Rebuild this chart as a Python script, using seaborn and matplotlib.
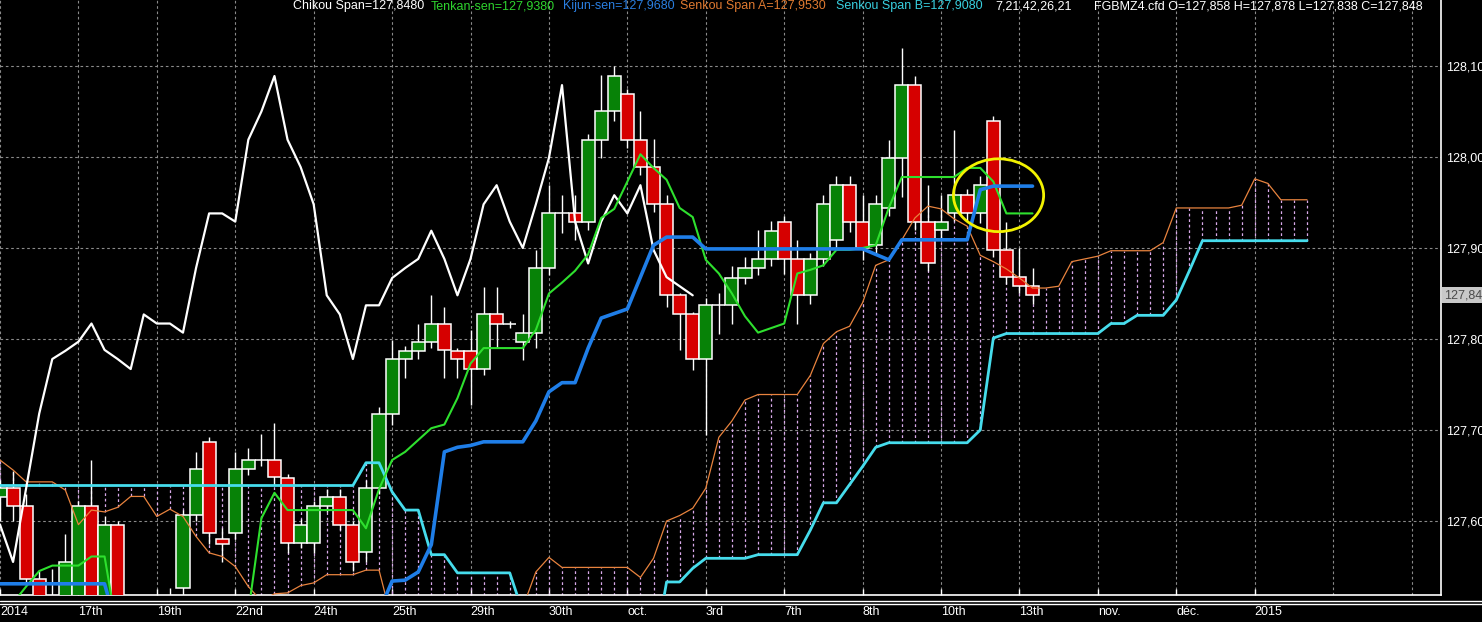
import numpy as np
import pandas as pd
import seaborn as sns
import matplotlib.pyplot as plt
from matplotlib.patches import Ellipse
from matplotlib.lines import Line2D
from matplotlib.transforms import blended_transform_factory

# ---- values, one entry per bar ----
opens = [
    127.626, 127.636, 127.616, 127.536, 127.510, 127.500, 127.500, 127.616, 127.500, 127.596,
    127.490, 127.480, 127.470, 127.470, 127.526, 127.607, 127.687, 127.580, 127.587, 127.657,
    127.667, 127.667, 127.647, 127.576, 127.576, 127.616, 127.626, 127.596, 127.566, 127.636,
    127.718, 127.778, 127.787, 127.797, 127.817, 127.787, 127.787, 127.767, 127.827, 127.817,
    127.797, 127.807, 127.878, 127.938, 127.938, 127.929, 128.019, 128.050, 128.069, 128.019,
    127.989, 127.948, 127.848, 127.827, 127.778, 127.837, 127.837, 127.867, 127.878, 127.888,
    127.929, 127.888, 127.848, 127.888, 127.909, 127.969, 127.929, 127.903, 127.944, 127.999,
    128.079, 127.929, 127.920, 127.938, 127.958, 127.938, 128.040, 127.898, 127.868, 127.858]
highs = [
    127.645, 127.655, 127.630, 127.545, 127.547, 127.586, 127.622, 127.667, 127.605, 127.600,
    127.500, 127.495, 127.490, 127.526, 127.612, 127.676, 127.692, 127.592, 127.676, 127.680,
    127.696, 127.708, 127.652, 127.602, 127.622, 127.635, 127.635, 127.600, 127.645, 127.725,
    127.799, 127.792, 127.817, 127.848, 127.835, 127.790, 127.810, 127.857, 127.857, 127.820,
    127.828, 127.898, 127.969, 127.958, 127.958, 128.025, 128.090, 128.100, 128.075, 128.050,
    128.020, 127.958, 127.850, 127.830, 127.845, 127.850, 127.880, 127.890, 127.920, 127.930,
    127.935, 127.909, 127.895, 127.958, 127.979, 127.979, 127.958, 127.958, 128.019, 128.120,
    128.089, 127.969, 127.958, 128.030, 127.965, 127.979, 128.045, 127.929, 127.900, 127.878]
lows = [
    127.600, 127.600, 127.530, 127.480, 127.470, 127.480, 127.490, 127.480, 127.490, 127.470,
    127.460, 127.455, 127.450, 127.450, 127.505, 127.600, 127.575, 127.555, 127.580, 127.650,
    127.660, 127.640, 127.565, 127.570, 127.565, 127.610, 127.590, 127.545, 127.555, 127.630,
    127.705, 127.757, 127.778, 127.790, 127.757, 127.757, 127.727, 127.760, 127.790, 127.812,
    127.777, 127.790, 127.870, 127.917, 127.909, 127.920, 127.999, 128.040, 128.010, 127.980,
    127.940, 127.835, 127.788, 127.766, 127.695, 127.806, 127.817, 127.860, 127.870, 127.880,
    127.871, 127.817, 127.839, 127.880, 127.900, 127.918, 127.887, 127.895, 127.935, 127.956,
    127.920, 127.875, 127.910, 127.930, 127.930, 127.927, 127.890, 127.860, 127.850, 127.838]
closes = [
    127.636, 127.616, 127.536, 127.500, 127.490, 127.555, 127.616, 127.500, 127.596, 127.490,
    127.480, 127.470, 127.470, 127.500, 127.607, 127.657, 127.587, 127.575, 127.657, 127.667,
    127.667, 127.648, 127.576, 127.596, 127.616, 127.626, 127.596, 127.555, 127.636, 127.718,
    127.778, 127.787, 127.797, 127.817, 127.788, 127.778, 127.767, 127.827, 127.817, 127.817,
    127.807, 127.878, 127.938, 127.938, 127.929, 128.019, 128.050, 128.089, 128.019, 127.989,
    127.948, 127.848, 127.827, 127.778, 127.837, 127.837, 127.867, 127.878, 127.888, 127.919,
    127.888, 127.848, 127.888, 127.948, 127.969, 127.929, 127.900, 127.948, 127.999, 128.079,
    127.929, 127.883, 127.929, 127.958, 127.938, 127.969, 127.898, 127.868, 127.858, 127.848]

tenkan = [
    127.480, 127.510, 127.528, 127.545, 127.551, 127.551, 127.551, 127.561, 127.561, 127.477,
    127.460, 127.460, 127.460, 127.460, 127.460, 127.460, 127.460, 127.460, 127.460, 127.500,
    127.603, 127.631, 127.612, 127.612, 127.612, 127.612, 127.612, 127.612, 127.592, 127.635,
    127.667, 127.676, 127.689, 127.702, 127.706, 127.735, 127.773, 127.790, 127.790, 127.790,
    127.790, 127.810, 127.850, 127.862, 127.875, 127.893, 127.933, 127.943, 127.973, 128.003,
    127.988, 127.975, 127.944, 127.934, 127.887, 127.872, 127.850, 127.825, 127.807, 127.812,
    127.817, 127.872, 127.876, 127.881, 127.898, 127.898, 127.900, 127.903, 127.944, 127.978,
    127.978, 127.978, 127.978, 127.978, 127.988, 127.988, 127.973, 127.938, 127.938, 127.938]
kijun = [
    127.531, 127.531, 127.531, 127.531, 127.531, 127.531, 127.531, 127.531, 127.531, 127.480,
    127.480, 127.480, 127.480, 127.480, 127.480, 127.480, 127.480, 127.480, 127.480, 127.480,
    127.480, 127.480, 127.480, 127.480, 127.480, 127.480, 127.480, 127.480, 127.480, 127.500,
    127.534, 127.535, 127.544, 127.574, 127.676, 127.681, 127.683, 127.687, 127.687, 127.687,
    127.687, 127.710, 127.742, 127.752, 127.752, 127.790, 127.823, 127.828, 127.833, 127.868,
    127.903, 127.912, 127.912, 127.912, 127.899, 127.899, 127.899, 127.899, 127.899, 127.899,
    127.899, 127.899, 127.899, 127.899, 127.899, 127.899, 127.899, 127.893, 127.887, 127.909,
    127.909, 127.909, 127.909, 127.909, 127.909, 127.964, 127.968, 127.968, 127.968, 127.968]
senkou_a = [
    127.667, 127.656, 127.643, 127.643, 127.643, 127.634, 127.596, 127.612, 127.610, 127.615,
    127.627, 127.627, 127.605, 127.613, 127.605, 127.583, 127.565, 127.561, 127.550, 127.528,
    127.512, 127.520, 127.521, 127.529, 127.532, 127.541, 127.541, 127.541, 127.546, 127.546,
    127.490, 127.480, 127.480, 127.480, 127.480, 127.480, 127.480, 127.480, 127.480, 127.480,
    127.505, 127.544, 127.560, 127.549, 127.549, 127.549, 127.549, 127.549, 127.549, 127.538,
    127.559, 127.600, 127.606, 127.614, 127.636, 127.692, 127.710, 127.733, 127.739, 127.739,
    127.739, 127.739, 127.760, 127.795, 127.808, 127.814, 127.840, 127.881, 127.887, 127.909,
    127.933, 127.946, 127.943, 127.932, 127.924, 127.892, 127.885, 127.877, 127.867, 127.856,
    127.856, 127.858, 127.885, 127.888, 127.891, 127.897, 127.897, 127.897, 127.897, 127.906,
    127.944, 127.944, 127.944, 127.944, 127.944, 127.947, 127.976, 127.971, 127.953, 127.953,
    127.953]
senkou_b = [
    127.639, 127.639, 127.639, 127.639, 127.639, 127.639, 127.639, 127.639, 127.639, 127.639,
    127.639, 127.639, 127.639, 127.639, 127.639, 127.639, 127.639, 127.639, 127.639, 127.639,
    127.639, 127.639, 127.639, 127.639, 127.639, 127.639, 127.639, 127.639, 127.664, 127.664,
    127.632, 127.612, 127.612, 127.563, 127.563, 127.543, 127.543, 127.543, 127.543, 127.543,
    127.500, 127.480, 127.480, 127.480, 127.480, 127.480, 127.480, 127.480, 127.480, 127.480,
    127.450, 127.533, 127.533, 127.548, 127.559, 127.559, 127.559, 127.559, 127.563, 127.563,
    127.563, 127.563, 127.590, 127.620, 127.620, 127.640, 127.660, 127.681, 127.686, 127.686,
    127.686, 127.686, 127.686, 127.686, 127.686, 127.700, 127.801, 127.806, 127.806, 127.806,
    127.806, 127.806, 127.806, 127.806, 127.806, 127.817, 127.817, 127.826, 127.826, 127.826,
    127.843, 127.875, 127.908, 127.908, 127.908, 127.908, 127.908, 127.908, 127.908, 127.908,
    127.908]

chikou_shift = 26
date_labels = ['2014', '17th', '19th', '22nd', '24th', '25th', '29th', '30th', 'oct.',
               '3rd', '7th', '8th', '10th', '13th', 'nov.', 'déc.', '2015']
price_levels = [127.60, 127.70, 127.80, 127.90, 128.00, 128.10]
last_price_label = '127,84'
header_texts = ['Chikou Span=127,8480', 'Tenkan-sen=127,9380', 'Kijun-sen=127,9680',
                'Senkou Span A=127,9530', 'Senkou Span B=127,9080', '7,21,42,26,21',
                'FGBMZ4.cfd O=127,858 H=127,878 L=127,838 C=127,848']

# ---- styling ----
C_TENKAN = '#2ee02e'
C_KIJUN = '#1f7ee8'
C_SPAN_A = '#e8833e'
C_SPAN_B = '#46dcec'
C_CLOUD = '#d9a9ea'
C_UP = '#078207'
C_DOWN = '#d60000'
header_colors = ['white', '#2ed42e', '#2a7ee0', '#e07a30', '#38d0e0', 'white', 'white']
header_x = [293, 431, 563, 680, 836, 995, 1094]

W, H = 1482, 622
sns.set_theme(style='dark', rc={'axes.facecolor': 'black', 'figure.facecolor': 'black'})
plt.rcParams['font.family'] = ['Liberation Sans', 'DejaVu Sans']

fig = plt.figure(figsize=(W / 100, H / 100), dpi=100)
ax = fig.add_axes([0, 27 / H, 1441 / W, 1 - 27 / H])
ax.set_facecolor('black')

bars = np.arange(len(closes))
ahead = np.arange(len(senkou_a))
o = np.array(opens)
c = np.array(closes)

# grid
for gx in range(0, 112, 6):
    ax.axvline(gx, color='#8a8a8a', lw=0.8, ls=(0, (2.4, 2.4)), zorder=0.5)
for gy in price_levels:
    ax.axhline(gy, color='#8a8a8a', lw=0.8, ls=(0, (2.4, 2.4)), zorder=0.5)

# cloud hatching
sa = np.array(senkou_a)
sb = np.array(senkou_b)
ax.vlines(ahead, np.minimum(sa, sb), np.maximum(sa, sb), colors=C_CLOUD,
          linestyles=(0, (2.2, 2.2)), lw=0.9, zorder=1)

# candles
ax.vlines(bars, lows, highs, colors='white', lw=1.0, zorder=2)
body_col = [C_UP if cc >= oo else C_DOWN for oo, cc in zip(o, c)]
ax.bar(bars, np.abs(c - o), bottom=np.minimum(o, c), width=1.0, color=body_col,
       edgecolor='white', linewidth=1.1, zorder=3)

# ichimoku lines
sns.lineplot(x=ahead, y=senkou_a, ax=ax, color=C_SPAN_A, linewidth=0.9, zorder=4)
sns.lineplot(x=ahead, y=senkou_b, ax=ax, color=C_SPAN_B, linewidth=2.0, zorder=4)
chikou = pd.Series(closes).shift(-chikou_shift).dropna()
sns.lineplot(x=chikou.index, y=chikou.values, ax=ax, color='white', linewidth=1.6, zorder=5)
sns.lineplot(x=bars, y=tenkan, ax=ax, color=C_TENKAN, linewidth=1.5, zorder=6)
sns.lineplot(x=bars, y=kijun, ax=ax, color=C_KIJUN, linewidth=2.6, zorder=7)

# highlight circle
ax.add_patch(Ellipse((76.4, 127.958), 6.9, 0.080, fill=False, edgecolor='#f2f200',
                     lw=2.0, zorder=8))

ax.set_xlim(0, 1441 / 13.07)
ax.set_ylim(128.10 - (595 - 66) / 910, 128.10 + 66 / 910)

ax.set_xticks(range(0, 6 * len(date_labels), 6))
ax.set_xticklabels(date_labels)
for lab in ax.get_xticklabels():
    lab.set_ha('left')
ax.tick_params(axis='x', direction='in', length=4, color='white', width=1,
               labelsize=9, labelcolor='white', pad=8, bottom=True)
ax.yaxis.tick_right()
ax.set_yticks(price_levels)
ax.set_yticklabels([f'{p:.2f}'.replace('.', ',') for p in price_levels])
ax.tick_params(axis='y', length=0, labelsize=9, labelcolor='white', pad=4)
ax.set_xlabel('')
ax.set_ylabel('')
ax.grid(False)

for side in ['top', 'left']:
    ax.spines[side].set_visible(False)
for side in ['right', 'bottom']:
    ax.spines[side].set_visible(True)
    ax.spines[side].set_color('white')
    ax.spines[side].set_linewidth(1.2)

# last price marker
tr = blended_transform_factory(ax.transAxes, ax.transData)
ax.text(1.0 + 3 / 1441, closes[-1], last_price_label, transform=tr, ha='left', va='center',
        fontsize=9, color='#4a4a4a', clip_on=False,
        bbox=dict(boxstyle='square,pad=0.15', fc='#c8c8c8', ec='none'))

# header
for txt, col, px in zip(header_texts, header_colors, header_x):
    fig.text(px / W, 1 - 6.5 / H, txt, color=col, fontsize=9, ha='left', va='center')

# double rule under the plot
for py in [601, 603.5]:
    fig.add_artist(Line2D([0, 1], [1 - py / H, 1 - py / H], transform=fig.transFigure,
                          color='white', lw=1.0))

fig.savefig('out.png', dpi=100, facecolor='black')
